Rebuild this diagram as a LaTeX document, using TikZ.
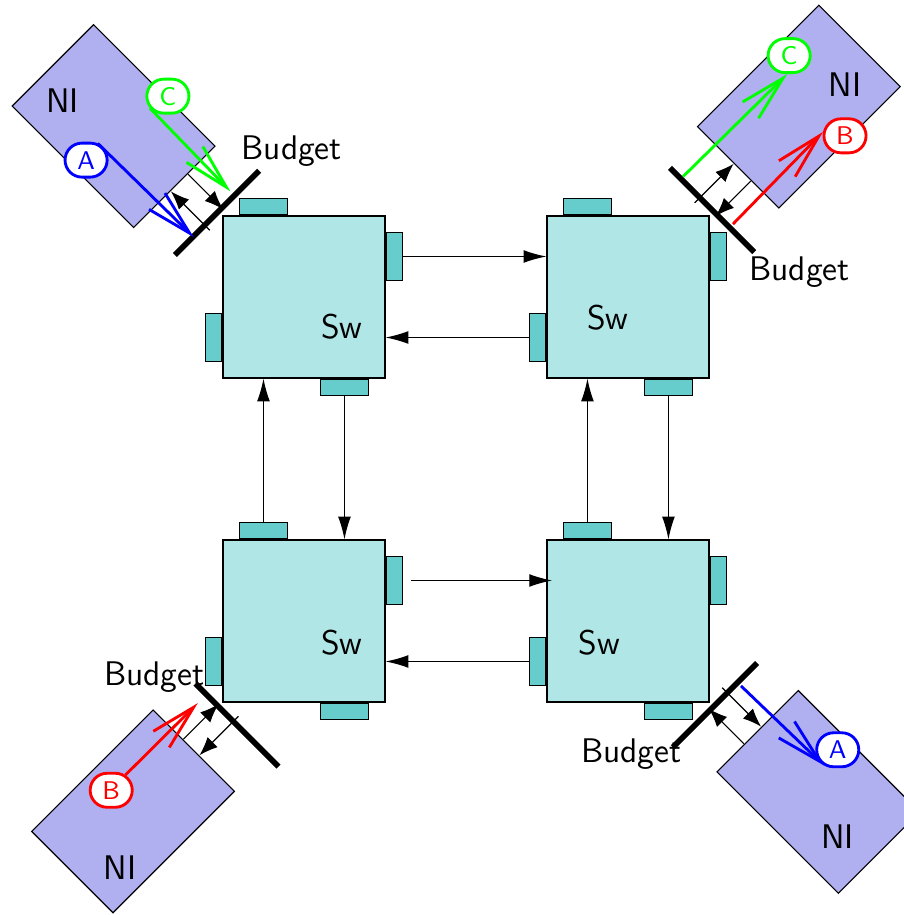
\documentclass[tikz,border=0pt]{standalone}
\usepackage{tikz}
\usetikzlibrary{arrows.meta,positioning,calc,shapes.misc}

\definecolor{nifill}{RGB}{176,176,240}
\definecolor{swfill}{RGB}{176,230,230}
\definecolor{portfill}{RGB}{102,204,204}

\begin{document}
\begin{tikzpicture}[>={Latex[length=8pt,width=4.5pt]}, font=\sffamily\large,
        sw/.style={draw, fill=swfill, minimum size=2cm, inner sep=0pt},
        hport/.style={draw, fill=portfill, inner sep=0pt, minimum width=0.6cm, minimum height=0.2cm},
        vport/.style={draw, fill=portfill, inner sep=0pt, minimum width=0.2cm, minimum height=0.6cm},
        ni/.style={draw, fill=nifill},
        budget/.style={line width=2pt},
        flow/.style={-{Latex[length=6.5pt,width=5pt]}},
        swlink/.style={->},
        pkt/.style={line width=1pt, -{Straight Barb[length=16pt,width=8pt]}},
        pkttag/.style={rounded rectangle, draw=#1, text=#1, fill=white, line width=1pt,
            font=\sffamily\small, minimum width=0.59cm, minimum height=0.42cm, inner sep=1pt}]
    \useasboundingbox (-3.753,-3.630) rectangle (7.407,7.667);

    % Switches with their ports
    \foreach \s/\x/\y in {TL/0/4, TR/4/4, BL/0/0, BR/4/0} {
        \node[sw] (sw\s) at (\x,\y) {};
        \node[hport, anchor=south] (sw\s-n) at ([xshift=-0.5cm]sw\s.north) {};
        \node[hport, anchor=north] (sw\s-s) at ([xshift=0.5cm]sw\s.south) {};
        \node[vport, anchor=west] (sw\s-e) at ([yshift=0.5cm]sw\s.east) {};
        \node[vport, anchor=east] (sw\s-w) at ([yshift=-0.5cm]sw\s.west) {};
    }
    \node (swTL-txt) at (0.47,3.63) {Sw};
    \node (swTR-txt) at (3.75,3.75) {Sw};
    \node (swBL-txt) at (0.47,-0.27) {Sw};
    \node (swBR-txt) at (3.65,-0.27) {Sw};

    % Links between switches
    \draw[swlink] (swTL-e.east) -- (swTL-e.east -| swTR.west);
    \draw[swlink] (swTR-w.west) -- (swTR-w.west -| swTL.east);
    \draw[swlink] (swBL-n.north) -- (swBL-n.north |- swTL.south);
    \draw[swlink] (swTL-s.south) -- (swTL-s.south |- swBL.north);
    \draw[swlink] (swBR-n.north) -- (swBR-n.north |- swTR.south);
    \draw[swlink] (swTR-s.south) -- (swTR-s.south |- swBR.north);
    \draw[swlink, shorten <=0.1cm, shorten >=-0.07cm] (swBL-e.east) -- (swBL-e.east -| swBR.west);
    \draw[swlink] (swBR-w.west) -- (swBR-w.west -| swBL.east);

    % Top left NI
    \begin{scope}[shift={(-1,5)}, rotate=135]
        \draw[ni] (0.68,-0.54) rectangle (2.8,0.88);
        \draw[budget] (0.08,-0.71) -- (0.08,0.76);
        \draw[flow] (-0.01,0.24) -- (0.67,0.24);
        \draw[flow] (0.67,-0.06) -- (0.06,-0.06);
        \coordinate (tlAbar) at (0.07,0.44);
        \coordinate (tlCbar) at (0.15,-0.28);
    \end{scope}

    % Top right NI
    \begin{scope}[shift={(5,5)}, rotate=45]
        \draw[ni] (0.68,-0.54) rectangle (2.8,0.88);
        \draw[budget] (0.08,-0.71) -- (0.08,0.76);
        \draw[flow] (-0.01,0.24) -- (0.67,0.24);
        \draw[flow] (0.67,-0.06) -- (0.06,-0.06);
        \coordinate (trCbar) at (0.12,0.57);
        \coordinate (trBbar) at (0.14,-0.28);
    \end{scope}

    % Bottom left NI
    \begin{scope}[shift={(-1,-1)}, rotate=225]
        \draw[ni] (0.68,-0.54) rectangle (2.8,0.88);
        \draw[budget] (0.08,-0.40) -- (0.08,1.05);
        \draw[flow] (-0.01,0.26) -- (0.67,0.26);
        \draw[flow] (0.67,-0.02) -- (0.06,-0.02);
        \coordinate (blBbar) at (0.23,-0.21);
    \end{scope}

    % Bottom right NI
    \begin{scope}[shift={(5,-1)}, rotate=315]
        \draw[ni] (0.68,-0.54) rectangle (2.8,0.88);
        \draw[budget] (0.08,-0.71) -- (0.08,0.76);
        \draw[flow] (-0.01,0.24) -- (0.67,0.24);
        \draw[flow] (0.67,-0.06) -- (0.06,-0.06);
        \coordinate (brAbar) at (0.14,0.42);
    \end{scope}

    \node (tlNI) at (-2.98,6.42) {NI};
    \node (trNI) at (6.68,6.62) {NI};
    \node (blNI) at (-2.27,-3.05) {NI};
    \node (brNI) at (6.59,-2.66) {NI};

    \node (tlBudget) at (-0.15,5.80) {Budget};
    \node (trBudget) at (6.12,4.31) {Budget};
    \node (blBudget) at (-1.85,-0.69) {Budget};
    \node (brBudget) at (4.04,-1.65) {Budget};

    % Packets
    \node[pkttag=blue] (tlA) at (-2.69,5.69) {A};
    \node[pkttag=green] (tlC) at (-1.68,6.48) {C};
    \node[pkttag=green] (trC) at (5.99,6.98) {C};
    \node[pkttag=red] (trB) at (6.68,5.99) {B};
    \node[pkttag=red] (blB) at (-2.38,-2.09) {B};
    \node[pkttag=blue] (brA) at (6.59,-1.59) {A};

    \draw[pkt, blue] (tlA.55) -- (tlAbar);
    \draw[pkt, green] (tlC.214) -- (tlCbar);
    \draw[pkt, green] (trCbar) -- (trC.264);
    \draw[pkt, red] (trBbar) -- (trB.170);
    \draw[pkt, red] (blB.47) -- (blBbar);
    \draw[pkt, blue] (brAbar) -- (brA.228);
\end{tikzpicture}
\end{document}
